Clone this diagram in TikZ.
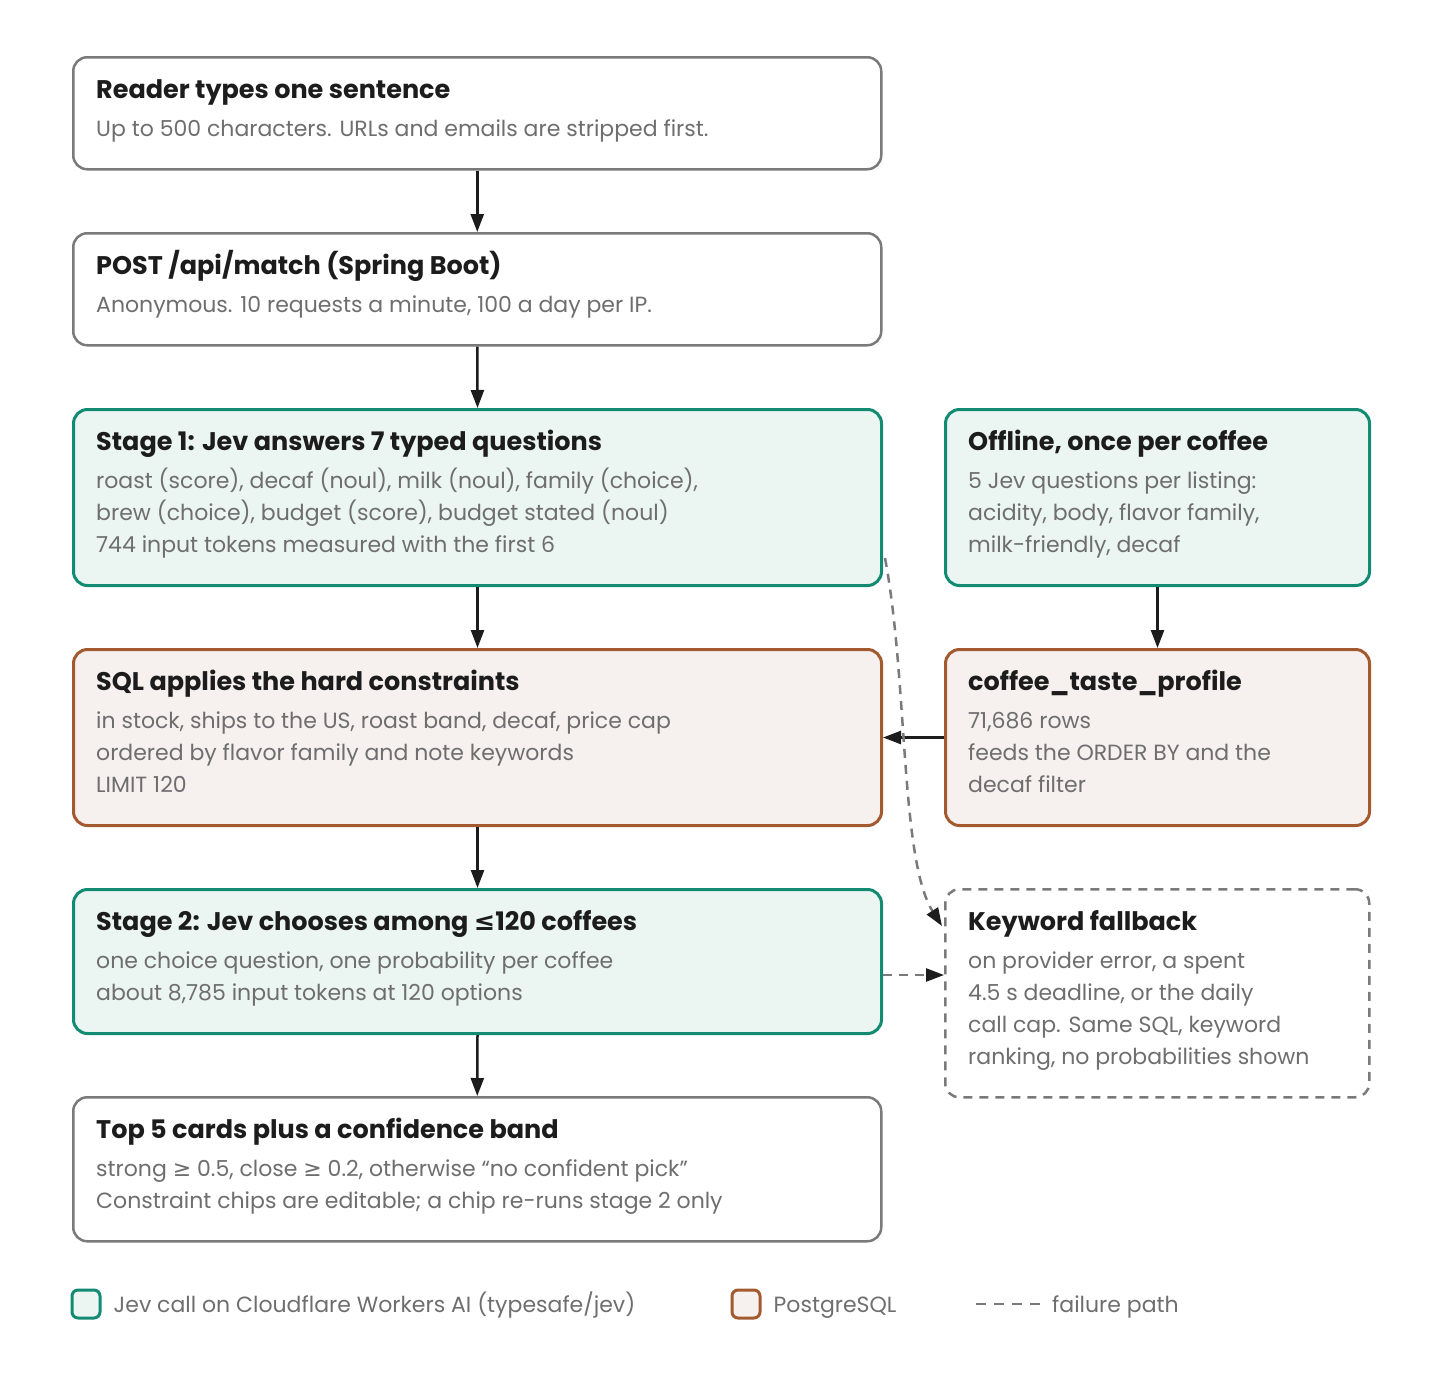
\documentclass[tikz,border=0pt]{standalone}
\usepackage{fontspec}
\setmainfont{Poppins}
\newfontfamily\symfont{DejaVu Sans}
\usetikzlibrary{arrows.meta,calc,positioning}

\definecolor{ink}{HTML}{1C1C1C}
\definecolor{muted}{HTML}{6E6E6E}
\definecolor{edgegray}{HTML}{7A7A7A}
\definecolor{jevline}{HTML}{138A72}
\definecolor{jevfill}{HTML}{EBF5F2}
\definecolor{pgline}{HTML}{A35A2F}
\definecolor{pgfill}{HTML}{F6F0EE}
% title line; the rule fixes the distance from the node top to the baseline
\newcommand{\headline}[1]{{\rule{0pt}{24pt}\fontsize{25.5}{32}\selectfont\bfseries\color{ink}#1}}
\newcommand{\lteq}{{\symfont ≤}}
\newcommand{\gteq}{{\symfont ≥}}

\tikzset{
  box/.style={draw=edgegray, line width=2.5pt, fill=white, rounded corners=14pt,
    minimum width=808pt, anchor=north west, inner sep=0pt},
  jevbox/.style={box, draw=jevline, fill=jevfill, line width=3pt},
  pgbox/.style={box, draw=pgline, fill=pgfill, line width=3pt},
  sidebox/.style={minimum width=424pt},
  txt/.style={anchor=north west, align=left, inner sep=0pt, text=muted,
    font=\fontsize{22}{32}\selectfont},
  tip/.style={-{Triangle[length=18pt,width=13pt,color=ink]}},
  flow/.style={draw=ink, line width=2.5pt, tip},
  fail/.style={draw=edgegray, line width=2.5pt, dash pattern=on 9pt off 7pt, tip},
  keybox/.style={minimum size=28pt, inner sep=0pt, rounded corners=6pt, line width=3pt}
}

\begin{document}
\begin{tikzpicture}[x=1pt,y=-1pt]
  \useasboundingbox (0,0) rectangle (1440,1384);

  % main column
  \node[box, minimum height=112pt] (reader) at (72,56) {};
  \node[box, minimum height=112pt] (api) at (72,232) {};
  \node[jevbox, minimum height=176pt] (stageone) at (72,408) {};
  \node[pgbox, minimum height=176pt] (sql) at (72,648) {};
  \node[jevbox, minimum height=144pt] (stagetwo) at (72,888) {};
  \node[box, minimum height=144pt] (result) at (72,1096) {};

  % side column
  \node[jevbox, sidebox, minimum height=176pt] (offline) at (944,408) {};
  \node[pgbox, sidebox, minimum height=176pt] (profile) at (944,648) {};
  \node[box, sidebox, minimum height=208pt, dash pattern=on 9pt off 7pt] (fallback) at (944,888) {};

  % texts
  \node[txt] (reader-t) at ($(reader.north west)+(24,18)$)
    {\headline{Reader types one sentence}\\[6pt]
     Up to 500 characters. URLs and emails are stripped first.};
  \node[txt] (api-t) at ($(api.north west)+(24,18)$)
    {\headline{POST /api/match (Spring Boot)}\\[6pt]
     Anonymous. 10 requests a minute, 100 a day per IP.};
  \node[txt] (stageone-t) at ($(stageone.north west)+(24,18)$)
    {\headline{Stage 1: Jev answers 7 typed questions}\\[6pt]
     roast (score), decaf (noul), milk (noul), family (choice),\\
     brew (choice), budget (score), budget stated (noul)\\
     744 input tokens measured with the first 6};
  \node[txt] (sql-t) at ($(sql.north west)+(24,18)$)
    {\headline{SQL applies the hard constraints}\\[6pt]
     in stock, ships to the US, roast band, decaf, price cap\\
     ordered by flavor family and note keywords\\
     LIMIT 120};
  \node[txt] (stagetwo-t) at ($(stagetwo.north west)+(24,18)$)
    {\headline{Stage 2: Jev chooses among \lteq120 coffees}\\[6pt]
     one choice question, one probability per coffee\\
     about 8,785 input tokens at 120 options};
  \node[txt] (result-t) at ($(result.north west)+(24,18)$)
    {\headline{Top 5 cards plus a confidence band}\\[6pt]
     strong \gteq\ 0.5, close \gteq\ 0.2, otherwise “no confident pick”\\
     Constraint chips are editable; a chip re-runs stage 2 only};
  \node[txt] (offline-t) at ($(offline.north west)+(24,18)$)
    {\headline{Offline, once per coffee}\\[6pt]
     5 Jev questions per listing:\\
     acidity, body, flavor family,\\
     milk-friendly, decaf};
  \node[txt] (profile-t) at ($(profile.north west)+(24,18)$)
    {\headline{coffee\_taste\_profile}\\[6pt]
     71,686 rows\\
     feeds the ORDER BY and the\\
     decaf filter};
  \node[txt] (fallback-t) at ($(fallback.north west)+(24,18)$)
    {\headline{Keyword fallback}\\[6pt]
     on provider error, a spent\\
     4.5 s deadline, or the daily\\
     call cap. Same SQL, keyword\\
     ranking, no probabilities shown};

  % connectors
  \draw[flow] (reader.south) -- (api.north);
  \draw[flow] (api.south) -- (stageone.north);
  \draw[flow] (stageone.south) -- (sql.north);
  \draw[flow] (sql.south) -- (stagetwo.north);
  \draw[flow] (stagetwo.south) -- (result.north);
  \draw[flow] (offline.south) -- (profile.north);
  \draw[flow] (profile.west) -- (sql.east);

  \coordinate (failA) at ($(stageone.north east)+(2,150)$);
  \coordinate (failB) at ($(fallback.north west)+(-2,38)$);
  \draw[fail] (failA) .. controls (908,680) and (900,860) .. (failB);
  \coordinate (failC) at ($(stagetwo.north east)+(0,87)$);
  \draw[fail] (failC) -- (failC -| fallback.west);

  % legend
  \node[keybox, draw=jevline, fill=jevfill] (keyjev) at (86,1304) {};
  \node[txt, anchor=base west] (keyjev-t) at ($(keyjev.east)+(12,8)$) {Jev call on Cloudflare Workers AI (typesafe/jev)};
  \node[keybox, draw=pgline, fill=pgfill] (keypg) at (746,1304) {};
  \node[txt, anchor=base west] (keypg-t) at ($(keypg.east)+(12,8)$) {PostgreSQL};
  \coordinate (keyfail) at (976,1304);
  \draw[edgegray, line width=2.5pt, dash pattern=on 10pt off 8pt] (keyfail) -- ++(64,0) coordinate (keyfailend);
  \node[txt, anchor=base west] (keyfail-t) at ($(keyfailend)+(12,8)$) {failure path};
\end{tikzpicture}
\end{document}
